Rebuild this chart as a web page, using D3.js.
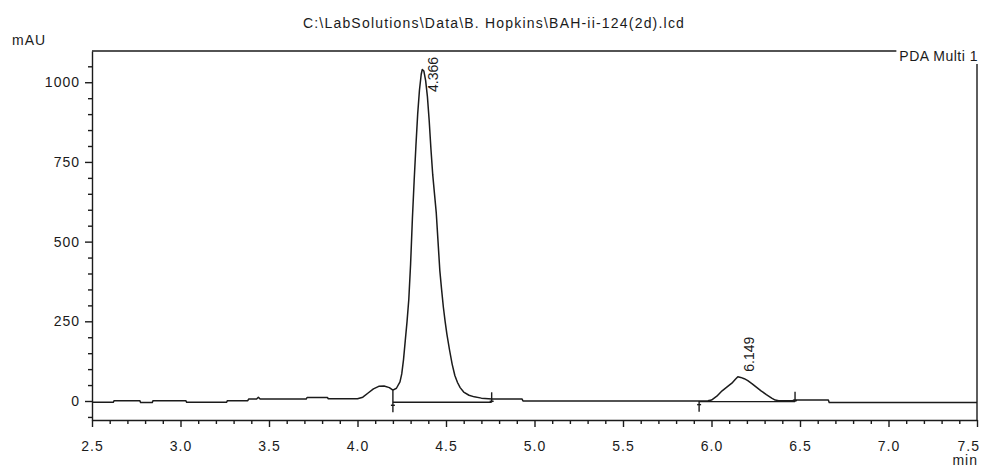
<!DOCTYPE html>
<html>
<head>
<meta charset="utf-8">
<script src="https://cdn.jsdelivr.net/npm/d3@7"></script>
<style>
  html, body { margin: 0; padding: 0; background: #fff; }
  svg { display: block; font-family: "Liberation Sans", Arial, sans-serif; }
</style>
</head>
<body>
<div id="chart"></div>
<script>
// ── Chromatogram: PDA Multi 1, BAH-ii-124(2d) ────────────────────
const titleText = "C:\\LabSolutions\\Data\\B. Hopkins\\BAH-ii-124(2d).lcd";
const channelName = "PDA Multi 1";

// trace: retention time (min) / absorbance (mAU)
const timeMin = [
  2.50, 2.62, 2.625, 2.77, 2.775, 2.84, 2.845, 3.03, 3.035, 3.26, 3.265, 3.38, 3.385, 3.43, 3.44, 3.45,
  3.71, 3.715, 3.83, 3.835, 4.00, 4.03, 4.06, 4.09, 4.12, 4.15, 4.18, 4.20, 4.22, 4.24, 4.25, 4.26,
  4.27, 4.28, 4.29, 4.30, 4.31, 4.32, 4.33, 4.34, 4.35, 4.36, 4.366, 4.375, 4.385, 4.395, 4.405, 4.415,
  4.425, 4.435, 4.445, 4.455, 4.465, 4.475, 4.485, 4.495, 4.505, 4.52, 4.535, 4.55, 4.565, 4.58, 4.60, 4.63,
  4.66, 4.70, 4.74, 4.76, 4.93, 4.935, 5.95, 5.98, 6.00, 6.03, 6.06, 6.09, 6.115, 6.135, 6.149, 6.165,
  6.185, 6.205, 6.23, 6.255, 6.28, 6.31, 6.34, 6.36, 6.38, 6.46, 6.465, 6.66, 6.665, 7.50
];
const absMAU = [
  -4, -4, 1, 1, -5, -5, 1, 1, -4, -4, 1, 1, 6, 6, 12, 6,
  6, 11, 11, 7, 7, 12, 25, 38, 46, 47, 42, 34, 40, 60, 85, 130,
  190, 250, 320, 430, 570, 690, 800, 900, 975, 1025, 1040, 1035, 1005, 955, 880, 790,
  710, 650, 590, 500, 410, 350, 295, 250, 210, 160, 115, 80, 58, 42, 28, 18,
  13, 9, 7, 6, 6, 0, 0, 1, 3, 15, 32, 45, 56, 68, 76, 74,
  70, 64, 54, 43, 32, 20, 9, 3, 1, 1, 3, 3, -5, -5
];

// integration results
const peakTimes   = [4.366, 6.149];
const peakHeights = [1040, 76];
const peakStart   = [4.20, 5.93];
const peakEnd     = [4.758, 6.472];
const baseLevel   = [-4, -2];

// axes
const xMajorTicks = [2.5, 3.0, 3.5, 4.0, 4.5, 5.0, 5.5, 6.0, 6.5, 7.0, 7.5];
const yMajorTicks = [0, 250, 500, 750, 1000];
const xDomain = [2.5, 7.5];
const yDomain = [-59.6, 1098];

const width = 981, height = 467;
const margin = { left: 92, right: 4, top: 51, bottom: 47 };
const ink = "#1b1b1b";

const svg = d3.select("#chart").append("svg")
  .attr("width", width).attr("height", height);

const x = d3.scaleLinear().domain(xDomain).range([margin.left, width - margin.right]);
const y = d3.scaleLinear().domain(yDomain).range([height - margin.bottom, margin.top]);

const xMinor = d3.range(25, 76).map(d => d / 10).filter(d => !xMajorTicks.includes(d));
const yMinor = d3.range(-50, 1051, 50).filter(d => !yMajorTicks.includes(d));

// frame (top + right)
svg.append("path")
  .attr("d", `M${x.range()[0]},${y.range()[1]}H${x.range()[1]}V${y.range()[0]}`)
  .attr("fill", "none").attr("stroke", ink).attr("stroke-width", 1.4);

// x axis
const xAxisG = svg.append("g").attr("transform", `translate(0,${y.range()[0]})`);
xAxisG.append("g")
  .call(d3.axisBottom(x).tickValues(xMinor).tickSize(4).tickFormat(""))
  .call(g => g.select(".domain").remove());
xAxisG.append("g")
  .call(d3.axisBottom(x).tickValues(xMajorTicks).tickSize(7).tickSizeOuter(0).tickPadding(14)
    .tickFormat(d3.format(".1f")));

// y axis
const yAxisG = svg.append("g").attr("transform", `translate(${x.range()[0]},0)`);
yAxisG.append("g")
  .call(d3.axisLeft(y).tickValues(yMinor).tickSize(4).tickFormat(""))
  .call(g => g.select(".domain").remove());
yAxisG.append("g")
  .call(d3.axisLeft(y).tickValues(yMajorTicks).tickSize(7).tickSizeOuter(0).tickPadding(5)
    .tickFormat(d3.format("d")));

svg.selectAll(".domain, .tick line").attr("stroke", ink).attr("stroke-width", 1.4);
svg.selectAll(".tick text")
  .attr("fill", ink).style("font-size", "14px").style("letter-spacing", "1px")
  .style("font-family", "'Liberation Sans', Arial, sans-serif");

// keep the last x label inside the page
xAxisG.selectAll(".tick text").each(function () {
  const bb = this.getBBox();
  const tx = +this.parentNode.getAttribute("transform").match(/translate\(([-\d.]+)/)[1];
  const over = tx + bb.x + bb.width - (width - 1);
  if (over > 0) d3.select(this).attr("x", -over);
});

// trace
const series = timeMin.map((t, i) => ({ t, v: absMAU[i] }));
svg.append("path")
  .datum(series)
  .attr("d", d3.line().x(d => x(d.t)).y(d => y(d.v)))
  .attr("fill", "none").attr("stroke", ink).attr("stroke-width", 1.5)
  .attr("stroke-linejoin", "round");

// integration baselines and start / end markers
const valueAt = t => {
  const i = d3.bisectLeft(timeMin, t);
  if (i <= 0) return absMAU[0];
  const t0 = timeMin[i - 1], t1 = timeMin[i];
  return absMAU[i - 1] + (absMAU[i] - absMAU[i - 1]) * (t - t0) / (t1 - t0);
};
const marks = svg.append("g").attr("stroke", ink).attr("stroke-width", 1.4).attr("fill", "none");
peakStart.forEach((s, i) => {
  const e = peakEnd[i];
  const by = y(baseLevel[i]);
  marks.append("line").attr("x1", x(s)).attr("x2", x(e)).attr("y1", by).attr("y2", by);
  // start marker
  marks.append("line").attr("x1", x(s)).attr("x2", x(s))
    .attr("y1", Math.min(y(valueAt(s)), by)).attr("y2", by + 10);
  marks.append("line").attr("x1", x(s) - 2).attr("x2", x(s) + 2)
    .attr("y1", by + 3).attr("y2", by + 3);
  // end marker
  marks.append("line").attr("x1", x(e)).attr("x2", x(e))
    .attr("y1", by - 10).attr("y2", by);
  marks.append("line").attr("x1", x(e) - 2).attr("x2", x(e) + 2)
    .attr("y1", by - 1).attr("y2", by - 1);
});

// peak labels (rotated, reading upward)
peakTimes.forEach((t, i) => {
  const px = x(t) + 16;
  const apex = y(peakHeights[i]);
  const lab = svg.append("text")
    .attr("fill", ink).style("font-size", "14px")
    .text(d3.format(".3f")(t));
  const len = lab.node().getComputedTextLength();
  const sy = Math.max(apex - 5, margin.top + 6 + len);
  lab.attr("transform", `translate(${px},${sy}) rotate(-90)`);
});

// channel label with white backing over the frame
const chan = svg.append("g");
const chanText = chan.append("text")
  .attr("x", width - 3).attr("y", 61).attr("text-anchor", "end")
  .attr("fill", ink).style("font-size", "14px").style("letter-spacing", "0.5px")
  .text(channelName);
const cb = chanText.node().getBBox();
chan.insert("rect", "text")
  .attr("x", cb.x - 3).attr("y", cb.y).attr("width", cb.width + 6).attr("height", cb.height)
  .attr("fill", "#fff");

// titles
svg.append("text")
  .attr("x", 494).attr("y", 28).attr("text-anchor", "middle")
  .attr("fill", ink).style("font-size", "14px").style("letter-spacing", "1.2px")
  .text(titleText);
svg.append("text")
  .attr("x", 12).attr("y", 45)
  .attr("fill", ink).style("font-size", "14px").style("letter-spacing", "1px")
  .text("mAU");
svg.append("text")
  .attr("x", width - 3).attr("y", 465).attr("text-anchor", "end")
  .attr("fill", ink).style("font-size", "14px").style("letter-spacing", "1px")
  .text("min");
</script>
</body>
</html>
